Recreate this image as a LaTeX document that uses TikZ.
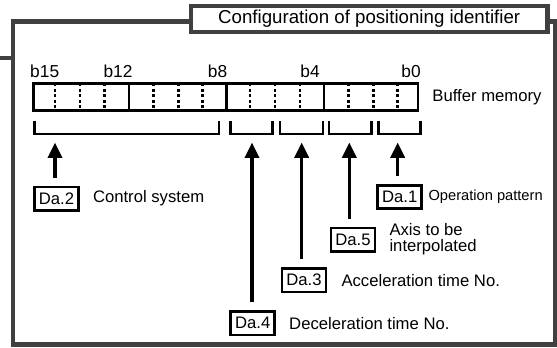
\documentclass[tikz,border=0pt]{standalone}
\usepackage{fontspec}
\setmainfont{Liberation Sans}
\usetikzlibrary{arrows.meta,positioning}
\definecolor{framegray}{RGB}{64,64,64}

\begin{document}
\begin{tikzpicture}[
x=0.75pt, y=-0.75pt,
frame/.style={draw=framegray,line width=3.6pt},
titlebox/.style={draw=framegray,line width=3.4pt,fill=white,minimum width=267.5pt,minimum height=19.3pt,inner sep=0pt,font=\fontsize{14}{16}\selectfont},
regbox/.style={draw,line width=1.9pt,minimum width=288.5pt,minimum height=20.5pt,inner sep=0pt},
bitline/.style={line width=1.9pt,dash pattern=on 2.2pt off 1.9pt},
bracket/.style={line width=1.9pt},
bitlabel/.style={font=\fontsize{13}{15}\selectfont,inner sep=0pt},
dabox/.style={draw,line width=1.9pt,minimum width=33pt,minimum height=17.6pt,inner sep=1pt,font=\fontsize{12.5}{14}\selectfont},
desc/.style={font=\fontsize{12.5}{12}\selectfont,inner sep=0pt,align=left},
arrow/.style={-{Triangle[length=11.5pt,width=10.5pt]},line width=2.5pt,shorten <=6pt,shorten >=5.6pt} ]

\useasboundingbox (0,0) rectangle (557,347);

\draw[frame] (13,21.7) rectangle (555,344.5);

\draw[frame] (0,58) -- (13,58);

\node[titlebox](title) at (369.2,18.9) {Configuration of positioning identifier};

\node[regbox](reg) at (225.6,97) {};

\draw[line width=1.9pt] (129,83.3) -- (129,110.7) (226.7,83.3) -- (226.7,110.7) (324,83.3) -- (324,110.7);

\draw[bitline] (55,83.3) -- (55,110.7) (80,83.3) -- (80,110.7) (104.3,83.3) -- (104.3,110.7)
  (153.3,83.3) -- (153.3,110.7) (178.3,83.3) -- (178.3,110.7) (202.7,83.3) -- (202.7,110.7)
  (250,83.3) -- (250,110.7) (275,83.3) -- (275,110.7) (300,83.3) -- (300,110.7)
  (348.3,83.3) -- (348.3,110.7) (373.3,83.3) -- (373.3,110.7) (397.7,83.3) -- (397.7,110.7);

\node[bitlabel](b15) at (44.7,71.3) {b15};

\node[bitlabel](b12) at (118,71.3) {b12};

\node[bitlabel](b8) at (217.5,71.3) {b8};

\node[bitlabel](b4) at (310,71.3) {b4};

\node[bitlabel](b0) at (411,71.3) {b0};

\node[desc, right=9.75pt of reg](bufmem) {Buffer memory};

\draw[bracket] (34.3,121) -- (34.3,134) -- (219,134) -- (219,121);

\draw[bracket] (230.3,121) -- (230.3,134) -- (272.3,134) -- (272.3,121);

\draw[bracket] (280,121) -- (280,134) -- (323,134) -- (323,121);

\draw[bracket] (329,121) -- (329,134) -- (371.7,134) -- (371.7,121);

\draw[bracket] (378.3,121) -- (378.3,134) -- (420.7,134) -- (420.7,121);

\coordinate (ctrl) at (55,135);
\coordinate (decel) at (252,135);
\coordinate (accel) at (301.7,135);
\coordinate (axis) at (349.3,135);
\coordinate (oper) at (397.7,135);

\node[dabox](da2) at (56.5,198.5) {Da.2};

\node[dabox](da1) at (399.7,197) {Da.1};

\node[dabox](da5) at (353,239.5) {Da.5};

\node[dabox](da3) at (304,280.2) {Da.3};

\node[dabox](da4) at (252.7,323.3) {Da.4};

\node[desc, right=9.75pt of da2](ctrltxt) {Control system};

\node[desc, font=\fontsize{11}{13}\selectfont, right=4pt of da1](opertxt) {Operation pattern};

\node[desc, right=9.75pt of da5](axistxt) {Axis to be\\interpolated};

\node[desc, right=10.5pt of da3](acceltxt) {Acceleration time No.};

\node[desc, right=9.75pt of da4](deceltxt) {Deceleration time No.};

\draw[arrow] (ctrl |- da2.north) -- (ctrl);

\draw[arrow] (oper |- da1.north) -- (oper);

\draw[arrow] (axis |- da5.north) -- (axis);

\draw[arrow] (accel |- da3.north) -- (accel);

\draw[arrow] (decel |- da4.north) -- (decel);

\end{tikzpicture}
\end{document}
